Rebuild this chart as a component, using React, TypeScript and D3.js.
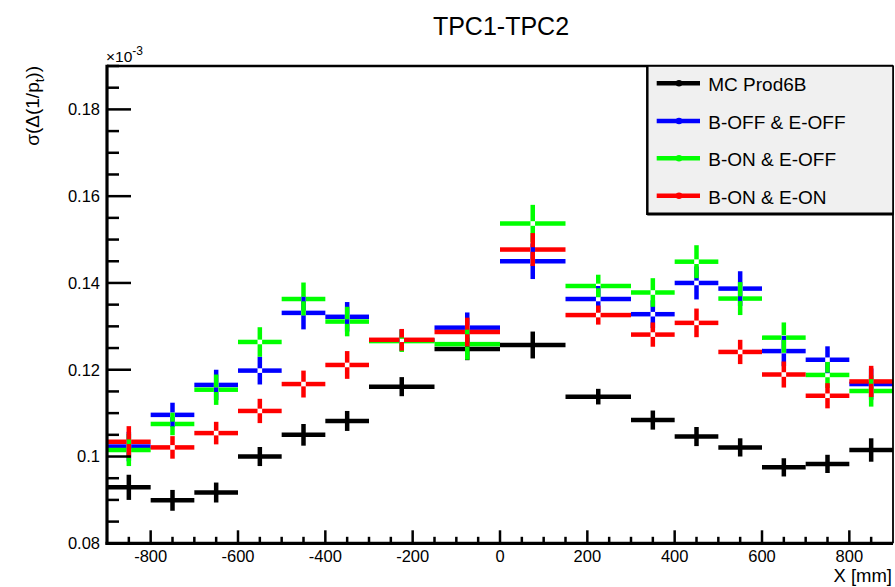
import React from "react";
import * as d3 from "d3";

const binEdges = [-900, -800, -700, -600, -500, -400, -300, -150, 0, 150, 300, 400, 500, 600, 700, 800, 900];

const mcValues = [0.0929, 0.0899, 0.0917, 0.1000, 0.1050, 0.1082, 0.1161, 0.1248, 0.1257, 0.1138, 0.1084, 0.1046, 0.1021, 0.0975, 0.0983, 0.1015];
const mcErrors = [0.0029, 0.0024, 0.0023, 0.0022, 0.0025, 0.0023, 0.0022, 0.0026, 0.0031, 0.0018, 0.0022, 0.0022, 0.0021, 0.0021, 0.0021, 0.0027];

const offOffValues = [0.1023, 0.1096, 0.1165, 0.1198, 0.1331, 0.1322, 0.1268, 0.1297, 0.1450, 0.1363, 0.1328, 0.1400, 0.1387, 0.1243, 0.1223, 0.1167];
const offOffErrors = [0.0034, 0.0028, 0.0035, 0.0032, 0.0038, 0.0034, 0.0025, 0.0035, 0.0041, 0.0030, 0.0032, 0.0038, 0.0040, 0.0035, 0.0031, 0.0036];

const onOffValues = [0.1015, 0.1075, 0.1154, 0.1264, 0.1363, 0.1311, 0.1266, 0.1259, 0.1537, 0.1393, 0.1378, 0.1449, 0.1364, 0.1274, 0.1188, 0.1151];
const onOffErrors = [0.0037, 0.0026, 0.0035, 0.0034, 0.0038, 0.0034, 0.0025, 0.0036, 0.0043, 0.0026, 0.0033, 0.0038, 0.0038, 0.0035, 0.0030, 0.0036];

const onOnValues = [0.1034, 0.1021, 0.1054, 0.1105, 0.1167, 0.1211, 0.1269, 0.1287, 0.1477, 0.1326, 0.1281, 0.1308, 0.1241, 0.1189, 0.1140, 0.1173];
const onOnErrors = [0.0036, 0.0026, 0.0026, 0.0028, 0.0031, 0.0032, 0.0025, 0.0033, 0.0038, 0.0022, 0.0028, 0.0033, 0.0028, 0.0030, 0.0029, 0.0036];

const seriesNames = ["MC Prod6B", "B-OFF & E-OFF", "B-ON & E-OFF", "B-ON & E-ON"];
const seriesColors = ["#000000", "#0000ff", "#00ff00", "#ff0000"];
const seriesValues = [mcValues, offOffValues, onOffValues, onOnValues];
const seriesErrors = [mcErrors, offOffErrors, onOffErrors, onOnErrors];
const seriesGap = [false, true, true, true];

const xMajorTicks = [-800, -600, -400, -200, 0, 200, 400, 600, 800];
const yMajorTicks = [0.08, 0.1, 0.12, 0.14, 0.16, 0.18];
const yTickLabels = ["0.08", "0.1", "0.12", "0.14", "0.16", "0.18"];

const title = "TPC1-TPC2";
const xTitle = "X [mm]";

const W = 895;
const H = 587;
const FONT = "'Liberation Sans', Arial, Helvetica, sans-serif";

export default function App() {
  const x = d3.scaleLinear().domain([-900, 900]).range([107, 893]);
  const y = d3.scaleLinear().domain([0.08, 0.19]).range([543.3, 66]);

  const xMinor = d3.range(-850, 900, 50).filter((v) => !xMajorTicks.includes(v));
  const yMinor = d3.range(0, 23).map((i) => 0.08 + i * 0.005).filter((v) => !yMajorTicks.some((m) => Math.abs(m - v) < 1e-9));

  const lw = 4.5;
  const gap = 2.3;

  const marks: React.ReactNode[] = [];
  seriesValues.forEach((vals, si) => {
    const color = seriesColors[si];
    const errs = seriesErrors[si];
    vals.forEach((v, i) => {
      const x0 = x(binEdges[i]);
      const x1 = x(binEdges[i + 1]);
      const xc = x((binEdges[i] + binEdges[i + 1]) / 2);
      const yc = y(v);
      const yt = y(v + errs[i]);
      const yb = y(v - errs[i]);
      const g = seriesGap[si] ? gap : 0;
      const key = `${si}-${i}`;
      if (g > 0) {
        marks.push(
          <g key={key} stroke={color} strokeWidth={lw} strokeLinecap="butt">
            <line x1={x0} x2={xc - g} y1={yc} y2={yc} />
            <line x1={xc + g} x2={x1} y1={yc} y2={yc} />
            <line x1={xc} x2={xc} y1={yt} y2={yc - g} />
            <line x1={xc} x2={xc} y1={yc + g} y2={yb} />
          </g>
        );
      } else {
        marks.push(
          <g key={key} stroke={color} strokeWidth={lw} strokeLinecap="butt">
            <line x1={x0} x2={x1} y1={yc} y2={yc} />
            <line x1={xc} x2={xc} y1={yt} y2={yb} />
          </g>
        );
      }
    });
  });

  const frameL = x(-900);
  const frameR = x(900);
  const frameT = y(0.19);
  const frameB = y(0.08);

  const legX0 = 647.3;
  const legY0 = frameT;
  const legX1 = frameR;
  const legY1 = 214;
  const legRowY = [83.3, 121, 158.3, 195.7];

  return (
    <svg width={W} height={H} style={{ position: "absolute", left: 0, top: 0, background: "#fff" }} fontFamily={FONT}>
      <rect x={0} y={0} width={W} height={H} fill="#fff" />
      <text x={501} y={34.5} fontSize={25} textAnchor="middle" fill="#000">{title}</text>

      {/* data */}
      {marks}

      {/* frame */}
      <line x1={frameL} x2={frameR} y1={frameT} y2={frameT} stroke="#000" strokeWidth={2.5} />
      <line x1={frameR} x2={frameR} y1={frameT} y2={frameB} stroke="#000" strokeWidth={1.8} />
      <line x1={frameL} x2={frameL} y1={frameT - 1.2} y2={frameB + 1.5} stroke="#000" strokeWidth={3.2} />
      <line x1={frameL - 1.5} x2={frameR} y1={frameB} y2={frameB} stroke="#000" strokeWidth={3.2} />

      {/* y ticks */}
      {yMajorTicks.map((t, i) => (
        <g key={`ym${i}`}>
          <line x1={frameL} x2={frameL + 24} y1={y(t)} y2={y(t)} stroke="#000" strokeWidth={2.5} />
          <text x={100} y={y(t)} dy="0.36em" fontSize={16.5} textAnchor="end" fill="#000">{yTickLabels[i]}</text>
        </g>
      ))}
      {yMinor.map((t, i) => (
        <line key={`yn${i}`} x1={frameL} x2={frameL + 12} y1={y(t)} y2={y(t)} stroke="#000" strokeWidth={2.5} />
      ))}
      <text x={106} y={62} fontSize={15.5} fill="#000">
        ×10<tspan dy={-7} fontSize={12}>-3</tspan>
      </text>

      {/* x ticks */}
      {xMajorTicks.map((t, i) => (
        <g key={`xm${i}`}>
          <line x1={x(t)} x2={x(t)} y1={frameB} y2={frameB - 13} stroke="#000" strokeWidth={2.5} />
          <text x={x(t)} y={562} fontSize={16.5} textAnchor="middle" fill="#000">{String(t)}</text>
        </g>
      ))}
      {xMinor.map((t, i) => (
        <line key={`xn${i}`} x1={x(t)} x2={x(t)} y1={frameB} y2={frameB - 6.5} stroke="#000" strokeWidth={2.5} />
      ))}

      {/* axis titles */}
      <text x={892} y={582} fontSize={18.5} textAnchor="end" fill="#000">{xTitle}</text>
      <text transform={`translate(39,${frameT}) rotate(-90)`} fontSize={19} textAnchor="end" fill="#000">
        σ(Δ(1/p<tspan dy={4.5} fontSize={13}>t</tspan><tspan dy={-4.5}>))</tspan>
      </text>

      {/* legend */}
      <rect x={legX0} y={legY0} width={legX1 - legX0} height={legY1 - legY0} fill="#f0f0f0" stroke="#000" strokeWidth={1.6} />
      <line x1={legX0} x2={legX0} y1={legY0} y2={legY1 + 1} stroke="#000" strokeWidth={2.4} />
      <line x1={legX0} x2={legX1} y1={legY1} y2={legY1} stroke="#000" strokeWidth={2.8} />
      {seriesNames.map((name, i) => (
        <g key={`lg${i}`}>
          <line x1={656.7} x2={700} y1={legRowY[i]} y2={legRowY[i]} stroke={seriesColors[i]} strokeWidth={4.5} />
          <circle cx={679} cy={legRowY[i]} r={3.3} fill={seriesColors[i]} />
          <text x={708.3} y={legRowY[i] + 7.8} fontSize={19} fill="#000">{name}</text>
        </g>
      ))}
    </svg>
  );
}
